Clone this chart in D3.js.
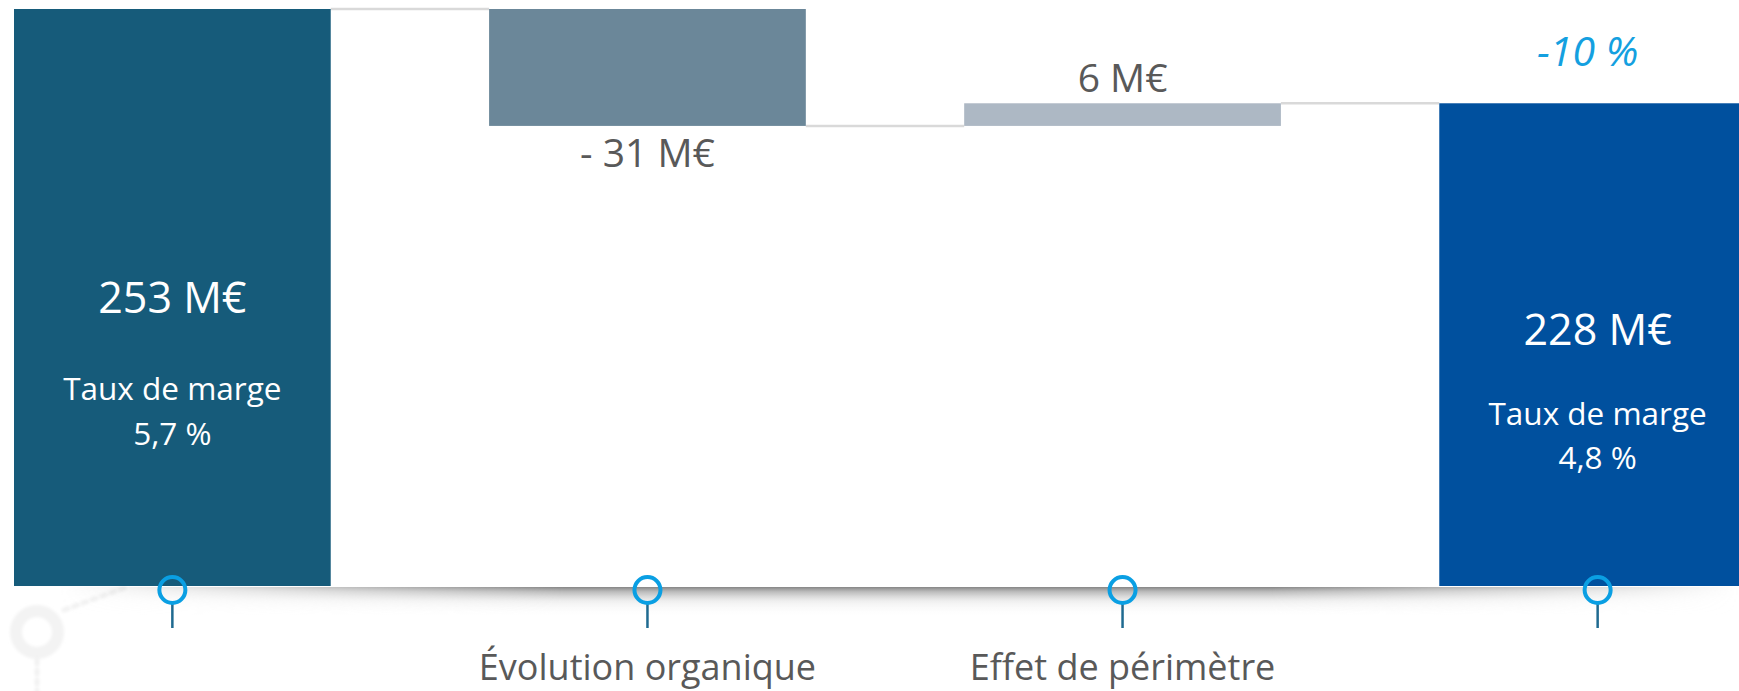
<!DOCTYPE html>
<html><head><meta charset="utf-8">
<script src="https://cdn.jsdelivr.net/npm/d3@7/dist/d3.min.js"></script>
<style>html,body{margin:0;padding:0;background:#fff;overflow:hidden}svg{display:block}</style>
</head><body>
<svg id="chart" width="1739" height="691"></svg>
<script>
// ---- data ----
const categories = ["Début", "Évolution organique", "Effet de périmètre", "Fin"];
const axisLabels = ["", "Évolution organique", "Effet de périmètre", ""];
const barTypes   = ["total", "delta", "delta", "total"];
const values     = [253, -31, 6, 228];
const valueLabels = ["253 M€", "- 31 M€", "6 M€", "228 M€"];
const marginTitles = ["Taux de marge", "", "", "Taux de marge"];
const marginValues = ["5,7 %", "", "", "4,8 %"];
const changeLabel = "-10 %";
const axisMin = 100;
const colors = ["#165b7a", "#6b8799", "#adb8c4", "#00509e"];

// ---- layout ----
const W = 1739, H = 691;
const svg = d3.select("#chart");
const font = "'Open Sans', 'Noto Sans', sans-serif";

const x = d3.scaleBand().domain(categories).range([14, 1756]).paddingInner(1/3).paddingOuter(0);
const y = d3.scaleLinear().domain([axisMin, 253]).range([586, 9]);

// waterfall
let run = 0;
const bars = categories.map((c, i) => {
  let y0, y1;
  if (barTypes[i] === "total") { y0 = axisMin; y1 = values[i]; run = values[i]; }
  else { y0 = run; y1 = run + values[i]; run = y1; }
  return {cat: c, i, y0, y1, lo: Math.min(y0, y1), hi: Math.max(y0, y1)};
});

const defs = svg.append("defs");
const gv = defs.append("linearGradient").attr("id", "shadowV").attr("x1", 0).attr("y1", 0).attr("x2", 0).attr("y2", 1);
gv.append("stop").attr("offset", 0).attr("stop-color", "#707070").attr("stop-opacity", 0.85);
gv.append("stop").attr("offset", 0.15).attr("stop-color", "#8a8a8a").attr("stop-opacity", 0.6);
gv.append("stop").attr("offset", 0.5).attr("stop-color", "#c8c8c8").attr("stop-opacity", 0.25);
gv.append("stop").attr("offset", 1).attr("stop-color", "#ffffff").attr("stop-opacity", 0);
const gh = defs.append("linearGradient").attr("id", "fadeH").attr("x1", 0).attr("y1", 0).attr("x2", 1).attr("y2", 0);
[[0, 0], [0.12, 0.35], [0.3, 1], [0.72, 1], [0.86, 0.5], [1, 0]].forEach(([o, a]) =>
  gh.append("stop").attr("offset", o).attr("stop-color", "#fff").attr("stop-opacity", a));
defs.append("mask").attr("id", "fadeMask").attr("maskUnits", "userSpaceOnUse")
  .attr("x", 0).attr("y", 0).attr("width", W).attr("height", H)
  .append("rect").attr("x", 60).attr("y", 0).attr("width", W - 60).attr("height", H).attr("fill", "url(#fadeH)");
defs.append("filter").attr("id", "soft").append("feGaussianBlur").attr("stdDeviation", 1.8);

// faint watermark decoration bottom-left
const wm = svg.append("g").attr("filter", "url(#soft)");
wm.append("circle").attr("cx", 37).attr("cy", 632).attr("r", 21).attr("fill", "none").attr("stroke", "#f3f3f3").attr("stroke-width", 12);
wm.append("line").attr("x1", 64).attr("y1", 610).attr("x2", 124).attr("y2", 588)
  .attr("stroke", "#f2f2f2").attr("stroke-width", 5).attr("stroke-dasharray", "4 6").attr("stroke-linecap", "round");
wm.append("line").attr("x1", 37).attr("y1", 660).attr("x2", 37).attr("y2", 691)
  .attr("stroke", "#f2f2f2").attr("stroke-width", 5).attr("stroke-dasharray", "4 6").attr("stroke-linecap", "round");

// shadow under baseline
svg.append("rect").attr("x", 60).attr("y", y(axisMin) + 1).attr("width", W - 60).attr("height", 30)
  .attr("fill", "url(#shadowV)").attr("mask", "url(#fadeMask)");

// connectors
const conn = svg.append("g");
for (let i = 0; i < bars.length - 1; i++) {
  const level = bars[i].y1;
  conn.append("line")
    .attr("x1", x(categories[i]) + x.bandwidth()).attr("x2", x(categories[i + 1]))
    .attr("y1", y(level)).attr("y2", y(level))
    .attr("stroke", "#d9d9d9").attr("stroke-width", 2.5);
}

// bars
svg.append("g").selectAll("rect").data(bars).join("rect")
  .attr("x", d => x(d.cat)).attr("width", x.bandwidth())
  .attr("y", d => y(d.hi)).attr("height", d => y(d.lo) - y(d.hi))
  .attr("fill", (d, i) => colors[i]);

// labels
const lab = svg.append("g").attr("font-family", font).attr("text-anchor", "middle");
bars.forEach((d, i) => {
  const cx = x(d.cat) + x.bandwidth() / 2;
  if (barTypes[i] === "total") {
    const mid = (y(d.lo) + y(d.hi)) / 2;
    const base = mid + (i === 0 ? 15 : 0);
    lab.append("text").attr("x", cx).attr("y", base).attr("fill", "#fff").attr("font-size", 43).text(valueLabels[i]);
    lab.append("text").attr("x", cx).attr("y", base + (i === 0 ? 87 : 80)).attr("fill", "#fff").attr("font-size", 31.5).text(marginTitles[i]);
    lab.append("text").attr("x", cx).attr("y", base + (i === 0 ? 132 : 124)).attr("fill", "#fff").attr("font-size", 31.5).text(marginValues[i]);
  } else {
    const yy = values[i] < 0 ? y(d.lo) + 41 : y(d.hi) - 11;
    lab.append("text").attr("x", cx).attr("y", yy).attr("fill", "#595959").attr("font-size", 39).text(valueLabels[i]);
  }
});

// change label
const last = bars[bars.length - 1];
lab.append("text").attr("x", x(last.cat) + x.bandwidth() / 2 - 10).attr("y", y(last.hi) - 37)
  .attr("fill", "#14a0e0").attr("font-size", 41).attr("font-style", "italic").text(changeLabel);

// axis pins
const pins = svg.append("g");
categories.forEach((c, i) => {
  const cx = x(c) + x.bandwidth() / 2;
  const cy = y(axisMin) + 4;
  pins.append("line").attr("x1", cx).attr("x2", cx).attr("y1", cy + 14).attr("y2", cy + 38)
    .attr("stroke", "#1f6a90").attr("stroke-width", 2.5);
  pins.append("circle").attr("cx", cx).attr("cy", cy).attr("r", 13)
    .attr("fill", "none").attr("stroke", "#0a9fe3").attr("stroke-width", 4);
  if (axisLabels[i]) {
    lab.append("text").attr("x", cx).attr("y", 680).attr("fill", "#595959").attr("font-size", 36).text(axisLabels[i]);
  }
});
</script>
</body></html>
